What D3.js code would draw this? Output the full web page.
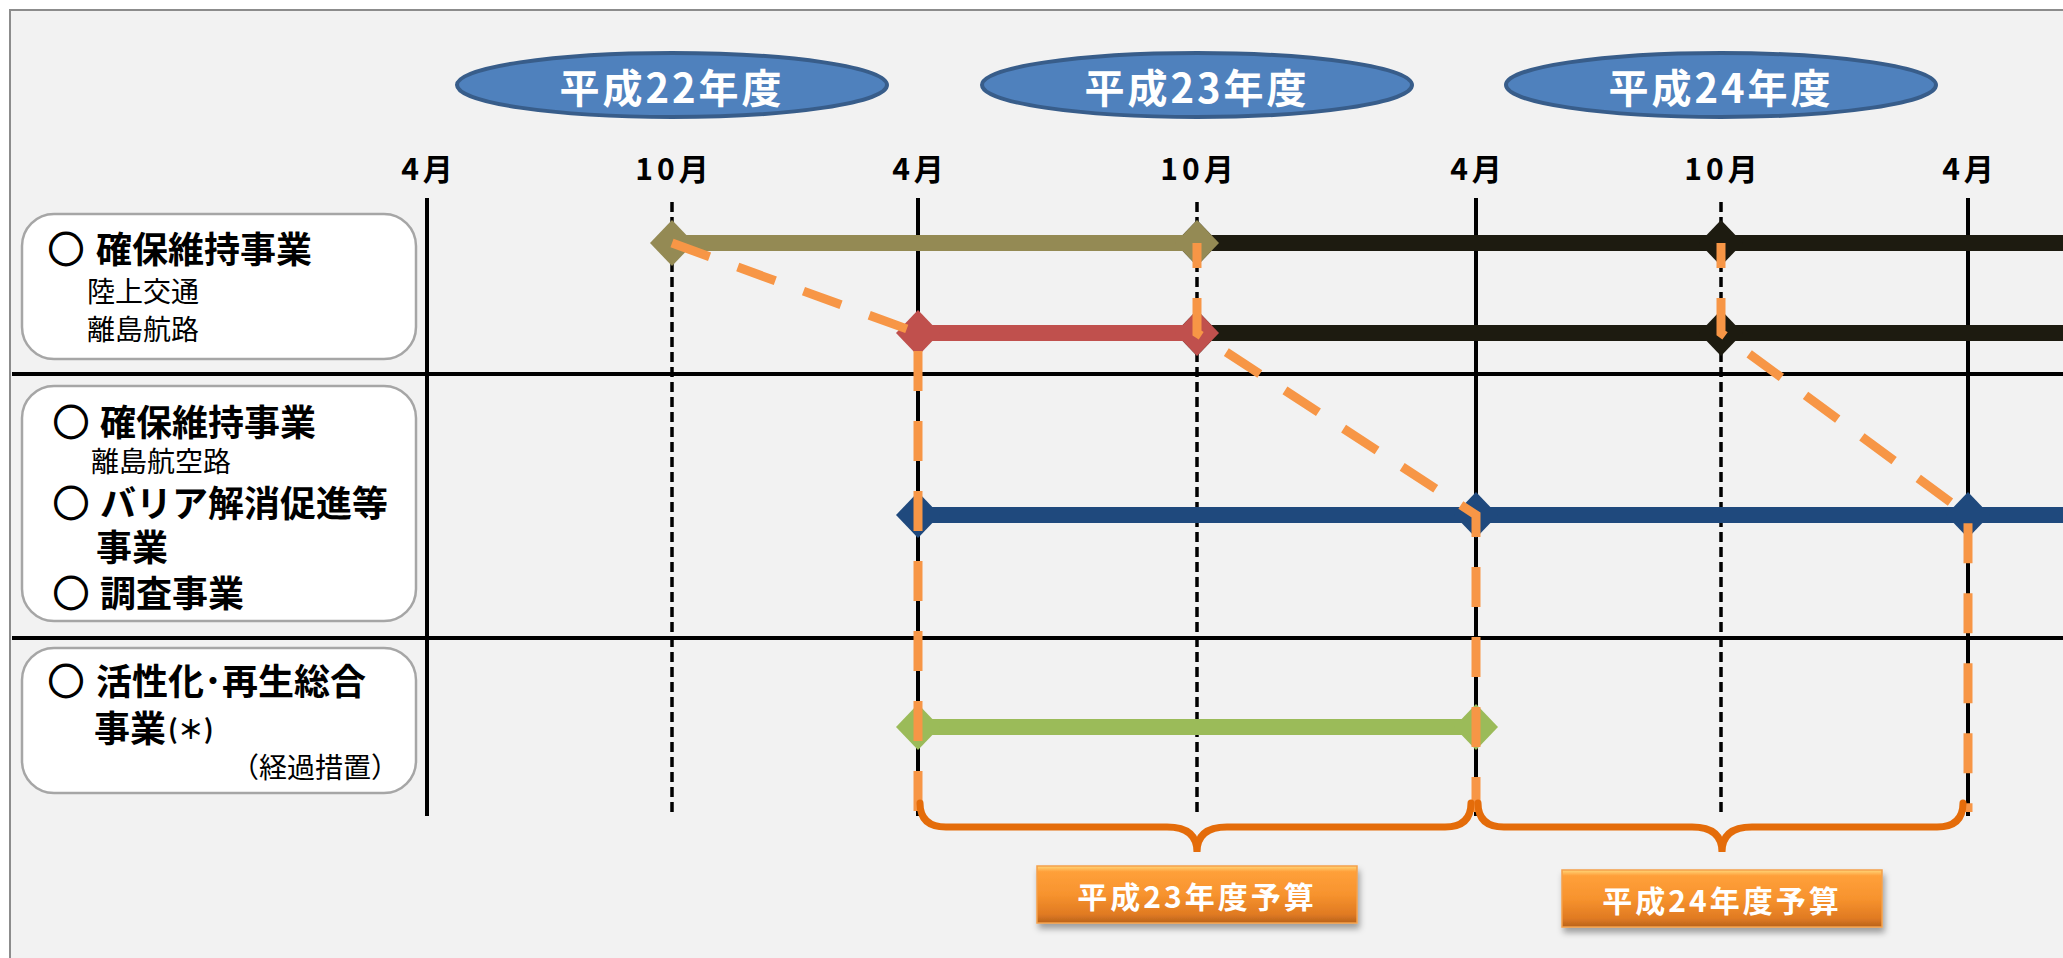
<!DOCTYPE html>
<html lang="ja">
<head>
<meta charset="utf-8">
<script src="https://cdn.jsdelivr.net/npm/d3@7/dist/d3.min.js"></script>
<style>
  html, body { margin: 0; padding: 0; background: #ffffff; }
  svg { display: block; font-family: "Noto Sans CJK JP", "Noto Sans", sans-serif; }
</style>
</head>
<body>
<svg id="chart" width="2063" height="958"></svg>
<script>
// ---------------- data ----------------
const tickMonths = [0, 6, 12, 18, 24, 30, 36];           // months from 平成22年4月
const tickLabels = ['4月', '10月', '4月', '10月', '4月', '10月', '4月'];
const tickKinds  = ['solid', 'dashed', 'solid', 'dashed', 'solid', 'dashed', 'solid'];

const fiscalYears   = ['平成22年度', '平成23年度', '平成24年度'];
const fiscalYearMid = [6, 18, 30];

const rowKeys = ['row1', 'row2', 'row3', 'row4'];

// timeline segments (39 = continues past the right edge)
const segSeries  = ['black', 'olive', 'black', 'red', 'blue', 'green'];
const segRow     = ['row1', 'row1', 'row2', 'row2', 'row3', 'row4'];
const segStart   = [18, 6, 18, 12, 12, 12];
const segEnd     = [39, 18, 39, 18, 39, 24];
const segMarkers = [[18, 30], [6, 18], [18, 30], [12, 18], [12, 24, 36], [12, 24]];

// orange transition flows: [month, row]
const flowPoints = [
  [[6, 'row1'], [12, 'row2'], [12, 'base']],
  [[18, 'row1'], [18, 'row2'], [24, 'row3'], [24, 'base']],
  [[30, 'row1'], [30, 'row2'], [36, 'row3'], [36, 'base']]
];

const budgetLabels = ['平成23年度予算', '平成24年度予算'];
const budgetFrom   = [12, 24];
const budgetTo     = [24, 36];

// category labels (one block per box)
const categoryBlocks = [
  [
    {bullet: true, t: '確保維持事業'},
    {t: '陸上交通', sub: true},
    {t: '離島航路', sub: true}
  ],
  [
    {bullet: true, t: '確保維持事業'},
    {t: '離島航空路', sub: true},
    {bullet: true, t: 'バリア解消促進等'},
    {t: '事業'},
    {bullet: true, t: '調査事業'}
  ],
  [
    {bullet: true, t: '活性化･再生総合'},
    {t: '事業', tail: '(＊)'},
    {t: '（経過措置）', sub: true, right: true}
  ]
];

// ---------------- layout / style ----------------
const W = 2063, H = 958;
const colLeft = 427;
const colWidths = [245, 246, 279, 279, 245, 247];
const tickX = [colLeft, ...d3.cumsum(colWidths).map(v => colLeft + v)];
const rowY = [243, 333, 515, 727, 812];

const seriesColor = {
  black: '#1d1b10', olive: '#948a54', red: '#c0504d', blue: '#1f497d', green: '#9bbb59'
};
const flowOffset = [0, 15, 15];

const x = d3.scaleLinear().domain(tickMonths).range(tickX);
const y = d3.scaleOrdinal().domain([...rowKeys, 'base']).range(rowY);

const svg = d3.select('#chart');
const defs = svg.append('defs');

const grad = defs.append('linearGradient').attr('id', 'budgetGrad')
  .attr('x1', 0).attr('y1', 0).attr('x2', 0).attr('y2', 1);
[[0, '#ffd77a'], [0.1, '#ffa03a'], [0.5, '#f7932e'], [0.85, '#e07a22'], [1, '#b8621c']]
  .forEach(([o, c]) => grad.append('stop').attr('offset', o).attr('stop-color', c));

const shadow = defs.append('filter').attr('id', 'shadow')
  .attr('x', '-10%').attr('y', '-20%').attr('width', '120%').attr('height', '160%');
shadow.append('feDropShadow').attr('dx', 2).attr('dy', 5).attr('stdDeviation', 3)
  .attr('flood-color', '#000').attr('flood-opacity', 0.35);

defs.append('clipPath').attr('id', 'plotClip')
  .append('rect').attr('x', 0).attr('y', 0).attr('width', W).attr('height', H);

// frame
svg.append('rect').attr('x', 10).attr('y', 10).attr('width', W + 40).attr('height', H + 40)
  .attr('fill', '#f2f2f2').attr('stroke', '#8c8c8c').attr('stroke-width', 2);

// fiscal year ellipses
const fy = svg.append('g').selectAll('g').data(fiscalYears).join('g')
  .attr('transform', (d, i) => `translate(${x(fiscalYearMid[i])},85)`);
fy.append('ellipse').attr('rx', 215).attr('ry', 32)
  .attr('fill', '#4f81bd').attr('stroke', '#385d8a').attr('stroke-width', 4);
fy.append('text').text(d => d)
  .attr('text-anchor', 'middle').attr('dominant-baseline', 'central').attr('y', 1)
  .attr('fill', '#ffffff').attr('font-size', 40).attr('font-weight', 700)
  .attr('letter-spacing', 3);

// month labels
svg.append('g').selectAll('text').data(tickLabels).join('text')
  .text(d => d)
  .attr('x', (d, i) => x(tickMonths[i]) + 2)
  .attr('y', 167)
  .attr('text-anchor', 'middle').attr('dominant-baseline', 'central')
  .attr('font-size', 30).attr('font-weight', 700).attr('fill', '#000')
  .attr('letter-spacing', 4);

// horizontal row separators
svg.append('g').selectAll('line').data([374, 638]).join('line')
  .attr('x1', 12).attr('x2', W).attr('y1', d => d).attr('y2', d => d)
  .attr('stroke', '#000').attr('stroke-width', 4);

// vertical month lines
svg.append('g').selectAll('line').data(tickMonths).join('line')
  .attr('x1', d => x(d)).attr('x2', d => x(d))
  .attr('y1', (d, i) => tickKinds[i] === 'solid' ? 198 : 202)
  .attr('y2', 816)
  .attr('stroke', '#000')
  .attr('stroke-width', (d, i) => tickKinds[i] === 'solid' ? 4 : 3.5)
  .attr('stroke-dasharray', (d, i) => tickKinds[i] === 'solid' ? null : '10 5');

// left category boxes
const boxes = [[214, 359], [386, 621], [648, 793]];
svg.append('g').selectAll('rect').data(boxes).join('rect')
  .attr('x', 22).attr('y', d => d[0]).attr('width', 394).attr('height', d => d[1] - d[0])
  .attr('rx', 32).attr('ry', 32)
  .attr('fill', '#ffffff').attr('stroke', '#a6a6a6').attr('stroke-width', 2.5);

// per-line layout inside each box
const lineLayout = [
  [{bx: 48, x: 96, y: 247}, {x: 87, y: 290}, {x: 87, y: 328}],
  [{bx: 53, x: 100, y: 420}, {x: 91, y: 460}, {bx: 53, x: 100, y: 501}, {x: 96, y: 545}, {bx: 53, x: 100, y: 591}],
  [{bx: 48, x: 96, y: 679}, {x: 94, y: 726}, {x: 399, y: 766}]
];
const lbl = svg.append('g').attr('fill', '#000');
categoryBlocks.forEach((block, bi) => {
  const t = lbl.append('text').attr('dominant-baseline', 'central');
  block.forEach((l, li) => {
    const p = lineLayout[bi][li];
    if (l.bullet) {
      t.append('tspan').attr('x', p.bx).attr('y', p.y).attr('font-size', 36).attr('font-weight', 700)
        .attr('stroke', '#000').attr('stroke-width', 1.6).text('○');
    }
    const main = t.append('tspan').attr('y', p.y)
      .attr('font-size', l.sub ? 28 : 36).attr('font-weight', l.sub ? 400 : 700)
      .text(l.t);
    if (l.right) {
      // right aligned line: measure and shift
      main.attr('x', p.x);
      const w = main.node().getComputedTextLength();
      main.attr('x', p.x - w);
    } else {
      main.attr('x', p.x);
    }
    if (l.tail) {
      t.append('tspan').attr('y', p.y + 1).attr('font-size', 26).attr('font-weight', 700)
        .attr('dx', 2).text(l.tail);
    }
  });
});

// timeline segments with diamond markers
const segs = svg.append('g').attr('clip-path', 'url(#plotClip)');
const diamond = (cx, cy) => `M${cx - 22},${cy} L${cx},${cy - 23} L${cx + 22},${cy} L${cx},${cy + 23} Z`;
segSeries.forEach((s, i) => {
  const g = segs.append('g');
  g.append('line')
    .attr('x1', x(segStart[i])).attr('x2', x(segEnd[i]))
    .attr('y1', y(segRow[i])).attr('y2', y(segRow[i]))
    .attr('stroke', seriesColor[s]).attr('stroke-width', 16);
  g.selectAll('path').data(segMarkers[i]).join('path')
    .attr('d', m => diamond(x(m), y(segRow[i])))
    .attr('fill', seriesColor[s]);
});

// orange dashed flows
const flowLine = d3.line().x(p => x(p[0])).y(p => y(p[1]));
svg.append('g').selectAll('path').data(flowPoints).join('path')
  .attr('d', flowLine)
  .attr('fill', 'none').attr('stroke', '#f79646').attr('stroke-width', 9)
  .attr('stroke-dasharray', '40 30')
  .attr('stroke-dashoffset', (d, i) => flowOffset[i])
  .attr('stroke-linejoin', 'miter');

// braces
const braceTop = 803, braceMid = 827, braceTip = 852;
const bracePath = (a, b) => {
  const x0 = x(a) + 2, x1 = x(b) - 5, m = (x(a) + x(b)) / 2;
  return `M${x0},${braceTop} Q${x0},${braceMid} ${x0 + 26},${braceMid}` +
    ` L${m - 30},${braceMid} Q${m},${braceMid} ${m},${braceTip}` +
    ` Q${m},${braceMid} ${m + 30},${braceMid}` +
    ` L${x1 - 26},${braceMid} Q${x1},${braceMid} ${x1},${braceTop}`;
};
svg.append('g').selectAll('path').data(budgetLabels).join('path')
  .attr('d', (d, i) => bracePath(budgetFrom[i], budgetTo[i]))
  .attr('fill', 'none').attr('stroke', '#e46c0a').attr('stroke-width', 7)
  .attr('stroke-linecap', 'round');

// budget boxes
const bb = svg.append('g').selectAll('g').data(budgetLabels).join('g')
  .attr('transform', (d, i) => `translate(${(x(budgetFrom[i]) + x(budgetTo[i])) / 2},${866 + i * 4})`);
bb.append('rect').attr('x', -160).attr('y', 0).attr('width', 320).attr('height', 57)
  .attr('fill', 'url(#budgetGrad)').attr('stroke', '#f5a04a').attr('stroke-width', 1.5)
  .attr('filter', 'url(#shadow)');
bb.append('text').text(d => d)
  .attr('text-anchor', 'middle').attr('dominant-baseline', 'central').attr('y', 29)
  .attr('fill', '#ffffff').attr('font-size', 30).attr('font-weight', 700)
  .attr('letter-spacing', 3);
</script>
</body>
</html>
